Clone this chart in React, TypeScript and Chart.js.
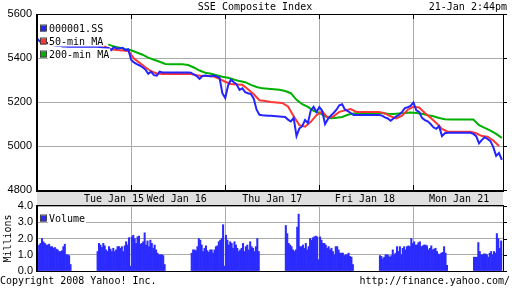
import { useEffect, useRef } from "react";
import { Chart, registerables } from "chart.js";

Chart.register(...registerables);

// ---------- text ----------
const titleText = "SSE Composite Index";
const stampText = "21-Jan 2:44pm";
const copyrightText = "Copyright 2008 Yahoo! Inc.";
const sourceText = "http://finance.yahoo.com/";
const seriesNames = ["000001.SS", "50-min MA", "200-min MA"];
const volumeName = "Volume";
const volumeAxisTitle = "Millions";

// ---------- time axis (trading minutes, 330 per day incl. lunch) ----------
const totalMinutes = 1634;
const dayBreakMinutes = [330, 660, 990, 1320];
const dayLabels = ["Tue Jan 15", "Wed Jan 16", "Thu Jan 17", "Fri Jan 18", "Mon Jan 21"];
const dayLabelMinutes = [270, 490, 825, 1150, 1480];

// ---------- price axis ----------
const priceMin = 4800;
const priceMax = 5600;
const priceTicks = [4800, 5000, 5200, 5400, 5600];

// ---------- index (10-minute samples from Tue 9:30) ----------
const indexStart = 0;
const indexStep = 10;
const indexValues = [
  // Tue
  5489, 5475, 5470, 5472, 5466, 5462, 5458, 5455, 5456, 5452, 5452, 5451,
  5451, 5451, 5451, 5451, 5451, 5451, 5451, 5451, 5451,
  5451, 5450, 5448, 5446, 5445, 5436, 5450, 5442, 5444, 5446, 5436, 5440,
  // Wed
  5392, 5380, 5372, 5366, 5358, 5348, 5328, 5338, 5322, 5320, 5338, 5334,
  5334, 5334, 5334, 5334, 5334, 5334, 5334, 5334, 5334,
  5333, 5325, 5318, 5305, 5318, 5320, 5318, 5317, 5320, 5316, 5310, 5240,
  // Thu
  5218, 5275, 5302, 5290, 5280, 5255, 5262, 5245, 5240, 5236, 5215, 5165,
  5142, 5140, 5139, 5138, 5137, 5136, 5135, 5134, 5133,
  5132, 5120, 5112, 5128, 5045, 5080, 5090, 5118, 5105, 5162, 5178, 5155,
  // Fri
  5177, 5160, 5100, 5122, 5138, 5150, 5165, 5185, 5190, 5165, 5158, 5150,
  5141, 5141, 5141, 5141, 5141, 5141, 5141, 5141, 5141,
  5141, 5138, 5130, 5125, 5115, 5125, 5135, 5142, 5155, 5172, 5176, 5182,
  // Mon
  5198, 5162, 5155, 5128, 5118, 5112, 5100, 5085, 5078, 5090, 5045, 5058,
  5060, 5060, 5060, 5060, 5060, 5060, 5060, 5060, 5060,
  5055, 5045, 5012, 5028, 5040, 5032, 5022, 4995, 4955, 4968, 4937,
];

// ---------- 50-min moving average (20-minute samples) ----------
const ma50Start = 60;
const ma50Step = 20;
const ma50Values = [
  5462, 5458, 5456, 5455, 5455, 5455, 5455, 5455, 5454, 5450, 5440, 5436, 5434, 5432,
  5398, 5378, 5358, 5340, 5330, 5327, 5327, 5327, 5327, 5327, 5327, 5322, 5318, 5318,
  5316, 5305, 5292, 5282, 5280, 5278, 5258, 5235, 5208, 5205, 5200, 5198, 5196, 5180,
  5135, 5095, 5088, 5110, 5140, 5158, 5128, 5135, 5155, 5162, 5168, 5155, 5155, 5155,
  5155, 5155, 5148, 5135, 5125, 5138, 5165, 5178, 5175, 5150, 5128, 5105, 5078, 5065,
  5065, 5065, 5065, 5065, 5058, 5045, 5042, 5025, 5000,
];

// ---------- 200-min moving average (20-minute samples) ----------
const ma200Start = 250;
const ma200Step = 20;
const ma200Values = [
  5462, 5452, 5447, 5440, 5435, 5425, 5415, 5402, 5392, 5383, 5373, 5372, 5372, 5372,
  5368, 5357, 5343, 5333, 5328, 5322, 5315, 5310, 5302, 5295, 5290, 5278, 5268, 5262,
  5260, 5258, 5256, 5250, 5240, 5210, 5190, 5178, 5160, 5150, 5135, 5126, 5128, 5132,
  5142, 5148, 5150, 5150, 5150, 5150, 5150, 5147, 5146, 5148, 5150, 5152, 5150, 5147,
  5140, 5135, 5127, 5122, 5120, 5120, 5120, 5120, 5120, 5095, 5082, 5070, 5055, 5037,
];

// ---------- volume (millions, 5-minute bars per session) ----------
const volumeMax = 4;
const volumeTicks = [0, 1, 2, 3, 4];
const volBarMinutes = 5;
const volSessionStarts = [0, 210, 330, 540, 660, 870, 990, 1200, 1320, 1530];
const volTueAM = [1.2, 1.6, 1.7, 2.0, 1.8, 1.7, 1.6, 1.6, 1.65, 1.5, 1.5, 1.4, 1.45, 1.35, 1.3, 1.2, 1.2, 1.25, 1.5, 1.65, 1.0, 1.0, 0.95, 0.4];
const volTuePM = [1.2, 1.7, 1.6, 1.45, 1.7, 1.55, 1.3, 1.2, 1.5, 1.35, 1.2, 1.4, 1.2, 1.3, 1.5, 1.5, 1.4, 1.5, 1.2, 1.55, 1.8, 1.6, 2.05, 0.3];
const volWedAM = [2.1, 2.2, 2.0, 1.7, 2.1, 2.15, 1.65, 1.7, 1.8, 2.35, 1.6, 1.85, 1.5, 1.9, 1.7, 1.4, 1.6, 1.3, 1.1, 1.0, 1.0, 1.0, 0.95, 0.4];
const volWedPM = [1.1, 1.3, 1.3, 1.25, 1.5, 2.0, 1.9, 1.6, 1.2, 1.4, 1.55, 1.25, 1.15, 1.3, 1.3, 1.1, 1.3, 1.5, 1.55, 1.8, 1.9, 2.0, 2.85, 0.3];
const volThuAM = [2.2, 1.9, 1.6, 1.8, 1.7, 1.4, 1.8, 1.6, 1.4, 1.2, 1.3, 1.4, 1.7, 1.2, 1.5, 1.6, 1.3, 1.8, 1.5, 1.4, 1.2, 1.5, 2.0, 1.2];
const volThuPM = [2.8, 2.3, 1.7, 1.6, 1.5, 1.3, 1.2, 1.3, 2.7, 3.5, 1.5, 1.5, 1.6, 1.4, 1.7, 1.3, 1.5, 2.0, 1.9, 2.05, 2.1, 2.15, 2.1, 0.7];
const volFriAM = [2.1, 1.9, 1.7, 1.7, 1.6, 1.4, 1.5, 1.3, 1.4, 1.2, 1.0, 1.5, 1.5, 1.3, 1.1, 1.1, 1.1, 0.95, 1.0, 1.0, 1.1, 0.9, 0.85, 0.4];
const volFriPM = [0.95, 0.9, 0.75, 0.85, 1.0, 1.0, 0.95, 0.85, 0.95, 1.3, 1.0, 1.1, 1.5, 1.2, 1.5, 1.0, 1.4, 1.5, 1.3, 1.5, 1.55, 1.5, 2.0, 1.7];
const volMonAM = [1.8, 1.6, 1.6, 1.75, 1.8, 1.5, 1.55, 1.6, 1.6, 1.55, 1.3, 1.4, 1.55, 1.3, 1.35, 1.4, 1.2, 1.05, 1.0, 1.1, 1.15, 1.5, 1.1, 0.35];
const volMonPM = [0.85, 0.85, 0.85, 1.75, 1.2, 1.0, 1.0, 1.05, 1.05, 1.0, 0.85, 1.1, 1.2, 1.0, 1.2, 1.1, 2.3, 2.0, 1.4, 1.85];
const volumeSessions = [volTueAM, volTuePM, volWedAM, volWedPM, volThuAM, volThuPM, volFriAM, volFriPM, volMonAM, volMonPM];

// ---------- style ----------
const BLUE = "#2424ff";
const RED = "#ff3535";
const GREEN = "#00b000";
const VOL = "#2b2bff";
const GRID = "#aaaaaa";
const BAND = "#e0e0e0";
const MONO = '"DejaVu Sans Mono", monospace';
const SANS = '"Liberation Sans", Arial, sans-serif';

const toPoints = (start: number, step: number, vals: number[]) =>
  vals.map((v, i) => ({ x: start + i * step, y: v }));

const volumePoints = () => {
  const pts: { x: number; y: number }[] = [];
  volumeSessions.forEach((arr, s) => {
    arr.forEach((v, k) => pts.push({ x: volSessionStarts[s] + k * volBarMinutes + volBarMinutes / 2, y: v }));
  });
  return pts;
};

const setTicks = (vals: number[]) => (scale: any) => {
  scale.ticks = vals.map((v) => ({ value: v }));
};

const drawLegendRow = (ctx: CanvasRenderingContext2D, x: number, y: number, color: string, text: string) => {
  ctx.font = `10px ${MONO}`;
  const w = ctx.measureText(text).width;
  ctx.fillStyle = "#fff";
  ctx.fillRect(x + 8, y - 6, w + 2, 11);
  ctx.fillStyle = color;
  ctx.fillRect(x, y - 3, 6, 6);
  ctx.strokeStyle = "#444";
  ctx.lineWidth = 1;
  ctx.strokeRect(x + 0.5, y - 3.5, 6, 6);
  ctx.fillStyle = "#000";
  ctx.textAlign = "left";
  ctx.textBaseline = "middle";
  ctx.fillText(text, x + 9, y + 0.5);
};

const pricePlugin = {
  id: "priceFrame",
  afterDatasetsDraw(chart: any) {
    const { ctx, chartArea } = chart;
    ctx.save();
    const colors = [BLUE, RED, GREEN];
    seriesNames.forEach((n, i) => drawLegendRow(ctx, chartArea.left + 3, chartArea.top + 14.5 + i * 13, colors[i], n));
    ctx.restore();
  },
  afterDraw(chart: any) {
    const { ctx, chartArea: ca, scales } = chart;
    const w = ca.right - ca.left;
    ctx.save();
    // date band
    ctx.fillStyle = BAND;
    ctx.fillRect(ca.left, ca.bottom + 2, w, 13);
    // frame
    ctx.fillStyle = "#000";
    ctx.fillRect(ca.left, ca.top, w + 1, 1);
    ctx.fillRect(ca.left - 1, ca.top, 2, ca.bottom - ca.top + 2);
    ctx.fillRect(ca.right, ca.top, 1, ca.bottom - ca.top + 2);
    ctx.fillRect(ca.left, ca.bottom, w + 1, 2);
    // ticks
    dayBreakMinutes.forEach((m) => {
      const px = Math.round(scales.x.getPixelForValue(m));
      ctx.fillRect(px, ca.top, 1, 5);
      ctx.fillRect(px, ca.bottom - 5, 1, 5);
    });
    priceTicks.forEach((v) => {
      const py = Math.round(scales.y.getPixelForValue(v));
      ctx.fillRect(ca.right, py, 4, 1);
    });
    // texts
    ctx.font = `10px ${MONO}`;
    ctx.textBaseline = "middle";
    ctx.textAlign = "center";
    ctx.fillText(titleText, chart.width / 2 - 1, 7);
    ctx.textAlign = "right";
    ctx.fillText(stampText, 507, 7);
    ctx.textAlign = "center";
    dayLabels.forEach((t, i) => {
      ctx.fillText(t, scales.x.getPixelForValue(dayLabelMinutes[i]), ca.bottom + 9);
    });
    ctx.textAlign = "left";
    ctx.fillText(copyrightText, 0, 281);
    ctx.textAlign = "right";
    ctx.fillText(sourceText, 510, 281);
    ctx.restore();
  },
};

const volumePlugin = {
  id: "volumeFrame",
  afterDraw(chart: any) {
    const { ctx, chartArea: ca, scales } = chart;
    const w = ca.right - ca.left;
    ctx.save();
    ctx.fillStyle = "#000";
    ctx.fillRect(ca.left, ca.top - 1, w + 1, 1);
    ctx.fillRect(ca.left - 1, ca.top - 1, 2, ca.bottom - ca.top + 2);
    ctx.fillRect(ca.right, ca.top - 1, 1, ca.bottom - ca.top + 2);
    ctx.fillRect(ca.left, ca.bottom, w + 1, 1);
    volumeTicks.forEach((v) => {
      const py = Math.round(scales.y.getPixelForValue(v));
      ctx.fillRect(ca.right, py, 4, 1);
    });
    drawLegendRow(ctx, ca.left + 3, ca.top + 12.5, VOL, volumeName);
    ctx.restore();
  },
};

export default function App() {
  const priceRef = useRef<HTMLCanvasElement | null>(null);
  const volRef = useRef<HTMLCanvasElement | null>(null);

  useEffect(() => {
    const lineDs = (label: string, data: any[], color: string) => ({
      label,
      data,
      borderColor: color,
      backgroundColor: color,
      borderWidth: 2,
      pointRadius: 0,
      tension: 0,
      fill: false,
    });

    const priceChart = new Chart(priceRef.current as HTMLCanvasElement, {
      type: "line",
      data: {
        datasets: [
          lineDs(seriesNames[0], toPoints(indexStart, indexStep, indexValues), BLUE),
          lineDs(seriesNames[1], toPoints(ma50Start, ma50Step, ma50Values), RED),
          lineDs(seriesNames[2], toPoints(ma200Start, ma200Step, ma200Values), GREEN),
        ],
      },
      options: {
        responsive: false,
        animation: false,
        events: [],
        layout: { padding: { top: 14, right: 9, bottom: 98, left: 0 } },
        plugins: { legend: { display: false }, tooltip: { enabled: false } },
        scales: {
          x: {
            type: "linear",
            min: 0,
            max: totalMinutes,
            afterBuildTicks: setTicks(dayBreakMinutes),
            ticks: { display: false },
            grid: { color: GRID, drawTicks: false },
            border: { display: false },
            afterFit: (s: any) => { s.height = 0; },
          },
          y: {
            type: "linear",
            min: priceMin,
            max: priceMax,
            afterBuildTicks: setTicks(priceTicks),
            ticks: {
              color: "#000",
              font: { family: SANS, size: 11 },
              padding: 5,
              callback: (v: any) => String(v),
            },
            grid: { color: GRID, drawTicks: false },
            border: { display: false },
            afterFit: (s: any) => { s.width = 37; },
          },
        },
      } as any,
      plugins: [pricePlugin],
    });

    const volChart = new Chart(volRef.current as HTMLCanvasElement, {
      type: "bar",
      data: {
        datasets: [
          {
            label: volumeName,
            data: volumePoints(),
            backgroundColor: VOL,
            borderWidth: 0,
            barThickness: 1.4,
          } as any,
        ],
      },
      options: {
        responsive: false,
        animation: false,
        events: [],
        layout: { padding: { top: 206, right: 9, bottom: 17, left: 0 } },
        plugins: { legend: { display: false }, tooltip: { enabled: false } },
        scales: {
          x: {
            type: "linear",
            min: 0,
            max: totalMinutes,
            afterBuildTicks: setTicks(dayBreakMinutes),
            ticks: { display: false },
            grid: { color: GRID, drawTicks: false, offset: false },
            border: { display: false },
            offset: false,
            afterFit: (s: any) => { s.height = 0; },
          },
          y: {
            type: "linear",
            min: 0,
            max: volumeMax,
            afterBuildTicks: setTicks(volumeTicks),
            ticks: {
              color: "#000",
              font: { family: SANS, size: 11 },
              padding: 4,
              callback: (v: any) => Number(v).toFixed(1),
            },
            title: {
              display: true,
              text: volumeAxisTitle,
              color: "#000",
              font: { family: MONO, size: 10 },
              padding: { top: 2, bottom: 0 },
            },
            grid: { color: GRID, drawTicks: false },
            border: { display: false },
            afterFit: (s: any) => { s.width = 37; },
          },
        },
      } as any,
      plugins: [volumePlugin],
    });

    return () => {
      priceChart.destroy();
      volChart.destroy();
    };
  }, []);

  return (
    <div style={{ position: "absolute", left: 0, top: 0, width: 512, height: 288, background: "#fff" }}>
      <canvas ref={priceRef} width={512} height={288} style={{ position: "absolute", left: 0, top: 0, width: 512, height: 288 }} />
      <canvas ref={volRef} width={512} height={288} style={{ position: "absolute", left: 0, top: 0, width: 512, height: 288 }} />
    </div>
  );
}
